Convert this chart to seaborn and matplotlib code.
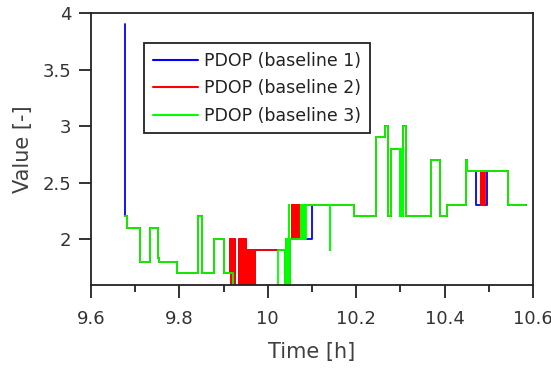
import numpy as np
import pandas as pd
import matplotlib
matplotlib.use("Agg")
import matplotlib.pyplot as plt
from matplotlib.ticker import MultipleLocator, FixedLocator, FixedFormatter
import seaborn as sns

# ---------------- data ----------------
series_names = ["PDOP (baseline 1)", "PDOP (baseline 2)", "PDOP (baseline 3)"]
series_colors = ["#0000ff", "#ff0000", "#00ff00"]

# starts
t_start_b1 = [9.6770, 9.6775]
v_start_b1 = [3.9, 2.2]
t_start_b23 = [9.6780]
v_start_b23 = [2.2]

# common head (all baselines)
t_head = [9.6815, 9.7110, 9.7330, 9.7510, 9.7530, 9.7955, 9.8425, 9.8520, 9.8785, 9.9005]
v_head = [2.1, 1.8, 2.1, 1.83, 1.8, 1.7, 2.2, 1.7, 2.0, 1.7]

# around 9.92 - 10.02 h (values below 1.6 are off-scale)
t_mid_b3 = [9.9220]
v_mid_b3 = [1.5]
t_mid_b12 = [9.9145, 9.9157, 9.9169, 9.9181, 9.9193, 9.9205, 9.9217, 9.9229, 9.9241, 9.9253,
             9.9350, 9.9362, 9.9374, 9.9386, 9.9398, 9.9410, 9.9422, 9.9434, 9.9446, 9.9458,
             9.9470, 9.9482, 9.9494, 9.9506, 9.9515,
             9.9525, 9.9529, 9.9570, 9.9574, 9.9620, 9.9624, 9.9670, 9.9674, 9.9712, 9.9716]
v_mid_b12 = [2.0, 1.5, 2.0, 1.5, 2.0, 1.5, 2.0, 1.5, 2.0, 1.5,
             2.0, 1.5, 2.0, 1.5, 2.0, 1.5, 2.0, 1.5, 2.0, 1.5,
             2.0, 1.5, 2.0, 1.5, 1.9,
             1.5, 1.9, 1.5, 1.9, 1.5, 1.9, 1.5, 1.9, 1.5, 1.9]

# common around 10.02 - 10.05 h
t_common2 = [10.0240, 10.0400, 10.0412, 10.0424, 10.0436, 10.0448, 10.0460, 10.0470, 10.0478,
             10.0488, 10.0500]
v_common2 = [1.9, 1.5, 2.0, 1.5, 2.0, 1.5, 2.0, 2.3, 2.0, 1.5, 2.0]

# 10.05 - 10.10 h
t_jump_b1 = [10.0990]
v_jump_b1 = [2.3]
t_jump_b2 = [10.0540, 10.0552, 10.0564, 10.0576, 10.0588, 10.0600, 10.0612, 10.0624, 10.0636,
             10.0648, 10.0660, 10.0672, 10.0684, 10.0696, 10.0708, 10.0720, 10.0730]
v_jump_b2 = [2.3, 2.0, 2.3, 2.0, 2.3, 2.0, 2.3, 2.0, 2.3, 2.0, 2.3, 2.0, 2.3, 2.0, 2.3, 2.0, 2.3]
t_jump_b3 = [10.0750, 10.0762, 10.0774, 10.0786, 10.0798, 10.0810, 10.0822, 10.0834, 10.0860]
v_jump_b3 = [2.3, 2.0, 2.3, 2.0, 2.3, 2.0, 2.3, 2.0, 2.3]

# common tail part 1
t_tail1 = [10.1410, 10.1418, 10.1940, 10.2450, 10.2650, 10.2725, 10.2780, 10.2990, 10.3002,
           10.3014, 10.3026, 10.3038, 10.3050, 10.3062, 10.3070, 10.3130, 10.3690, 10.3900,
           10.4060, 10.4480, 10.4500]
v_tail1 = [1.9, 2.3, 2.2, 2.9, 3.0, 2.2, 2.8, 2.2, 2.8,
           2.2, 2.8, 2.2, 2.8, 2.2, 3.0, 2.2, 2.7, 2.2,
           2.3, 2.7, 2.6]

# dip near 10.48 h
t_dip_b1 = [10.4710, 10.4950]
v_dip_b1 = [2.3, 2.6]
t_dip_b2 = [10.4820, 10.4832, 10.4844, 10.4856, 10.4868, 10.4880, 10.4892, 10.4910]
v_dip_b2 = [2.3, 2.6, 2.3, 2.6, 2.3, 2.6, 2.3, 2.6]
t_dip_b3 = []
v_dip_b3 = []

# common tail part 2
t_tail2 = [10.5430, 10.5840]
v_tail2 = [2.3, 2.3]

xtick_values = [9.6, 9.8, 10.0, 10.2, 10.4, 10.6]
xtick_labels = ["9.6", "9.8", "10", "10.2", "10.4", "10.6"]
ytick_values = [2.0, 2.5, 3.0, 3.5, 4.0]
ytick_labels = ["2", "2.5", "3", "3.5", "4"]

# ---------------- assemble ----------------
t_b1 = t_start_b1 + t_head + t_mid_b12 + t_common2 + t_jump_b1 + t_tail1 + t_dip_b1 + t_tail2
v_b1 = v_start_b1 + v_head + v_mid_b12 + v_common2 + v_jump_b1 + v_tail1 + v_dip_b1 + v_tail2
t_b2 = t_start_b23 + t_head + t_mid_b12 + t_common2 + t_jump_b2 + t_tail1 + t_dip_b2 + t_tail2
v_b2 = v_start_b23 + v_head + v_mid_b12 + v_common2 + v_jump_b2 + v_tail1 + v_dip_b2 + v_tail2
t_b3 = t_start_b23 + t_head + t_mid_b3 + t_common2 + t_jump_b3 + t_tail1 + t_dip_b3 + t_tail2
v_b3 = v_start_b23 + v_head + v_mid_b3 + v_common2 + v_jump_b3 + v_tail1 + v_dip_b3 + v_tail2

frames = []
for name, t, v in zip(series_names, [t_b1, t_b2, t_b3], [v_b1, v_b2, v_b3]):
    frames.append(pd.DataFrame({"t": t, "v": v, "series": name}))

# ---------------- plot ----------------
sns.set_theme(style="white")
plt.rcParams["font.family"] = ["DejaVu Sans"]

W, H = 551, 372
fig, ax = plt.subplots(figsize=(W / 100, H / 100), dpi=100)
fig.subplots_adjust(left=91 / W, right=533 / W, top=1 - 13 / H, bottom=1 - 285 / H)

for df, name, col in zip(frames, series_names, series_colors):
    sns.lineplot(data=df, x="t", y="v", color=col, label=name, estimator=None,
                 sort=False, drawstyle="steps-post", linewidth=1.3, ax=ax)

ax.set_xlim(9.6, 10.6)
ax.set_ylim(1.593, 4.0)

ax.xaxis.set_major_locator(FixedLocator(xtick_values))
ax.xaxis.set_major_formatter(FixedFormatter(xtick_labels))
ax.xaxis.set_minor_locator(MultipleLocator(0.1))
ax.yaxis.set_major_locator(FixedLocator(ytick_values))
ax.yaxis.set_major_formatter(FixedFormatter(ytick_labels))

text_col = "#333333"
ax.tick_params(axis="both", which="both", direction="out", bottom=True, left=True,
               top=False, right=False, colors="#222222", labelcolor=text_col)
ax.tick_params(axis="both", which="major", length=9, width=1.3, labelsize=13)
ax.tick_params(axis="x", which="major", pad=9)
ax.tick_params(axis="y", which="major", pad=5)
ax.tick_params(axis="x", which="minor", length=5, width=1.3)

for sp in ax.spines.values():
    sp.set_visible(True)
    sp.set_color("#222222")
    sp.set_linewidth(1.3)

ax.set_xlabel("Time [h]", fontsize=15, color="#404040", labelpad=10)
ax.set_ylabel("Value [-]", fontsize=15, color="#404040", labelpad=7)

leg = ax.legend(loc="upper left", bbox_to_anchor=(0.12, 0.89), borderaxespad=0,
                frameon=True, fancybox=False, edgecolor="#222222", framealpha=1,
                fontsize=12.5, handlelength=2.6, handletextpad=0.38, borderpad=0.5,
                labelspacing=0.55)
leg.get_frame().set_linewidth(1.3)
for txt in leg.get_texts():
    txt.set_color("#222222")
for line in leg.get_lines():
    line.set_linewidth(1.5)

fig.savefig("out.png", dpi=100, facecolor="white")
